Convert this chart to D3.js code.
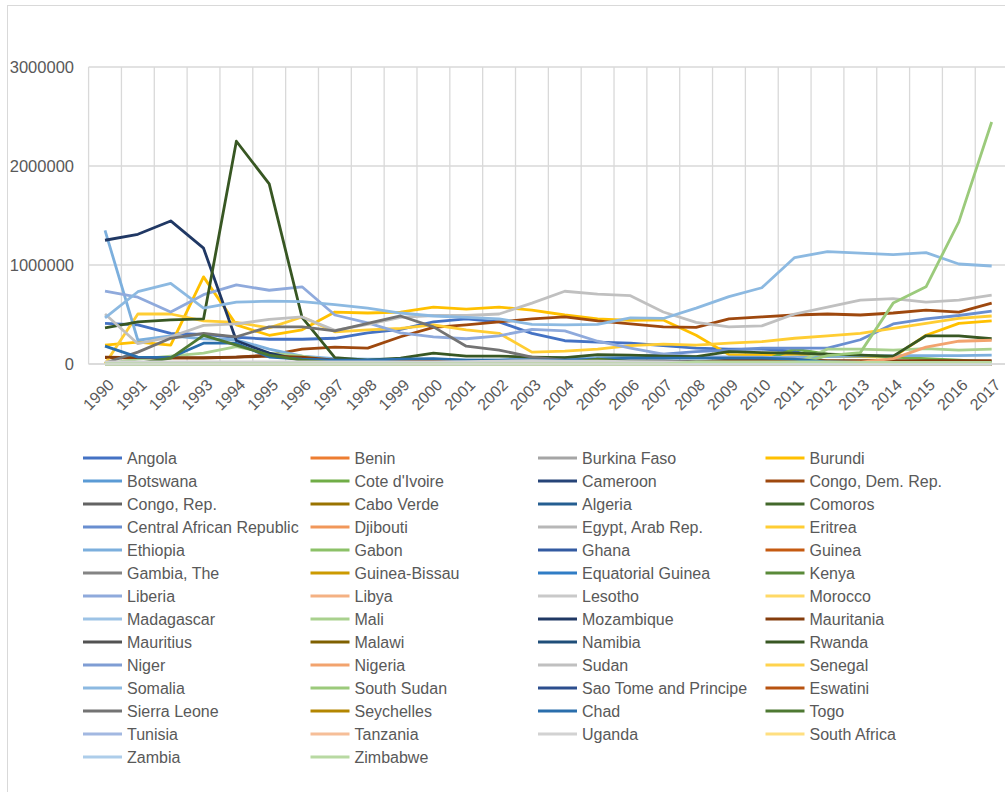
<!DOCTYPE html>
<html lang="en">
<head>
  <meta charset="utf-8">
  <title>Refugee population by country of origin - Africa</title>
  <script src="https://d3js.org/d3.v7.min.js"></script>
  <style>
    body { margin: 0; background: #fff; }
    #chart text { font-family: "Liberation Sans", Arial, sans-serif; fill: #595959; }
  </style>
</head>
<body>
<div id="chart"></div>
<script>
// categories
const years = ["1990","1991","1992","1993","1994","1995","1996","1997","1998","1999","2000","2001","2002","2003",
  "2004","2005","2006","2007","2008","2009","2010","2011","2012","2013","2014","2015","2016","2017"];

const yTicks = [0, 1000000, 2000000, 3000000];

const countries = ["Angola","Benin","Burkina Faso","Burundi","Botswana","Cote d'Ivoire","Cameroon","Congo, Dem. Rep.",
  "Congo, Rep.","Cabo Verde","Algeria","Comoros","Central African Republic","Djibouti","Egypt, Arab Rep.","Eritrea",
  "Ethiopia","Gabon","Ghana","Guinea","Gambia, The","Guinea-Bissau","Equatorial Guinea","Kenya",
  "Liberia","Libya","Lesotho","Morocco","Madagascar","Mali","Mozambique","Mauritania",
  "Mauritius","Malawi","Namibia","Rwanda","Niger","Nigeria","Sudan","Senegal",
  "Somalia","South Sudan","Sao Tome and Principe","Eswatini","Sierra Leone","Seychelles","Chad","Togo",
  "Tunisia","Tanzania","Uganda","South Africa","Zambia","Zimbabwe"];

// excel office palette (accents + shades/tints)
const colors = ["#4472C4","#ED7D31","#A5A5A5","#FFC000","#5B9BD5","#70AD47",
  "#264478","#9E480E","#636363","#997300","#255E91","#43682B",
  "#698ED0","#F1975A","#B7B7B7","#FFCD33","#7CAFDD","#8CC168",
  "#335AA1","#C55A11","#848484","#CC9A00","#307DC5","#5A8A39",
  "#8FAADC","#F4B183","#C9C9C9","#FFD966","#9DC3E6","#A9D18E",
  "#203864","#843C0C","#525252","#7F6000","#1F4E79","#385723",
  "#7F9DD4","#F2A36E","#C0C0C0","#FFD34D","#8CB9E1","#9BCA7B",
  "#2C4E8E","#B85310","#737373","#B38600","#2A6EAC","#4E7932",
  "#A2B8E1","#F6BE98","#D2D2D2","#FFDF80","#ADCDEA","#B8D9A2"];

// refugees by origin, one row per country (same order as countries)
const values = [
  /* Angola */ [410000,395000,310000,300000,270000,250000,250000,260000,315000,350000,425000,455000,425000,310000,235000,220000,210000,185000,160000,150000,150000,130000,20000,10000,10000,10000,10000,10000],
  /* Benin */ [500,500,500,500,500,500,500,500,500,500,500,500,500,500,500,500,500,500,500,500,500,500,500,500,500,500,500,500],
  /* Burkina Faso */ [1000,1000,1000,1000,1000,1000,1000,1000,1000,1000,1000,1000,1000,1000,1000,1000,1000,1000,1000,1000,1000,1000,1000,1000,1000,1500,1500,1500],
  /* Burundi */ [190000,220000,190000,880000,395000,290000,345000,525000,515000,525000,575000,555000,575000,545000,495000,455000,440000,445000,290000,95000,90000,100000,75000,75000,70000,290000,410000,435000],
  /* Botswana */ [0,0,0,0,0,0,0,0,0,0,0,0,0,0,0,0,0,0,0,0,0,0,0,0,0,0,0,0],
  /* Cote d'Ivoire */ [0,0,0,0,0,0,0,0,0,0,0,5000,20000,30000,20000,20000,20000,20000,20000,20000,30000,150000,100000,90000,70000,55000,40000,20000],
  /* Cameroon */ [5000,5000,5000,5000,5000,5000,5000,5000,5000,5000,5000,5000,5000,5000,5000,5000,10000,10000,15000,15000,15000,15000,15000,15000,10000,10000,10000,10000],
  /* Congo, Dem. Rep. */ [65000,60000,60000,60000,70000,90000,150000,170000,160000,275000,370000,395000,425000,455000,475000,435000,405000,375000,370000,455000,475000,495000,505000,495000,515000,545000,525000,615000],
  /* Congo, Rep. */ [0,0,0,0,0,0,0,30000,20000,40000,20000,15000,15000,15000,15000,15000,15000,15000,15000,15000,15000,15000,12000,12000,12000,12000,12000,12000],
  /* Cabo Verde */ [0,0,0,0,0,0,0,0,0,0,0,0,0,0,0,0,0,0,0,0,0,0,0,0,0,0,0,0],
  /* Algeria */ [5000,5000,5000,5000,5000,5000,5000,5000,5000,5000,10000,10000,10000,10000,10000,10000,8000,8000,8000,8000,8000,6000,5000,5000,5000,5000,5000,5000],
  /* Comoros */ [0,0,0,0,0,0,0,0,0,0,0,0,0,0,0,0,0,0,0,0,0,0,0,0,0,0,0,0],
  /* Central African Republic */ [5000,5000,5000,5000,5000,5000,5000,5000,5000,10000,15000,25000,35000,40000,40000,45000,75000,100000,125000,140000,160000,160000,160000,245000,405000,455000,490000,535000],
  /* Djibouti */ [1000,1000,1000,1000,1000,1000,1000,1000,1000,1000,1000,1000,1000,1000,1000,1000,1000,1000,1000,1000,1000,1000,1000,1000,1000,1000,1000,1000],
  /* Egypt, Arab Rep. */ [2000,2000,2000,2000,2000,2000,2000,2000,2000,2000,2000,2000,2000,2000,2000,2000,5000,6000,6000,6000,7000,8000,10000,15000,15000,18000,20000,20000],
  /* Eritrea */ [0,505000,505000,435000,420000,365000,475000,325000,345000,360000,395000,345000,310000,120000,130000,150000,185000,200000,190000,210000,225000,260000,285000,310000,360000,410000,460000,485000],
  /* Ethiopia */ [1350000,240000,285000,255000,245000,150000,80000,55000,50000,50000,50000,40000,40000,60000,65000,65000,70000,65000,65000,70000,65000,70000,75000,80000,85000,85000,85000,90000],
  /* Gabon */ [0,0,0,0,0,0,0,0,0,0,0,0,0,0,0,0,0,0,0,0,0,0,0,0,0,0,0,0],
  /* Ghana */ [10000,15000,15000,15000,15000,15000,15000,15000,12000,12000,12000,12000,12000,15000,15000,15000,15000,15000,15000,15000,15000,20000,20000,20000,20000,15000,15000,12000],
  /* Guinea */ [0,0,0,0,0,0,0,0,0,0,5000,5000,5000,5000,5000,5000,5000,8000,8000,10000,12000,15000,15000,15000,15000,15000,15000,15000],
  /* Gambia, The */ [0,0,0,0,0,0,0,0,0,0,0,0,0,0,0,0,0,0,0,0,1000,2000,2000,3000,3000,5000,7000,8000],
  /* Guinea-Bissau */ [0,0,0,0,0,0,0,0,20000,10000,5000,2000,2000,1000,1000,1000,1000,1000,1000,1000,1000,1000,1000,1000,1000,1000,1000,1000],
  /* Equatorial Guinea */ [0,0,0,0,0,0,0,0,0,0,0,0,0,0,0,0,0,0,0,0,0,0,0,0,0,0,0,0],
  /* Kenya */ [5000,5000,5000,5000,5000,5000,5000,5000,5000,5000,5000,5000,5000,5000,5000,5000,5000,5000,8000,9000,9000,9000,9000,8000,7000,7000,7000,7000],
  /* Liberia */ [735000,675000,525000,700000,800000,745000,780000,495000,415000,315000,275000,255000,285000,350000,335000,230000,160000,100000,75000,70000,70000,60000,30000,20000,10000,10000,10000,5000],
  /* Libya */ [0,0,0,0,0,0,0,0,0,0,0,0,0,0,0,0,0,0,0,0,0,2000,3000,3000,4000,6000,8000,9000],
  /* Lesotho */ [0,0,0,0,0,0,0,0,0,0,0,0,0,0,0,0,0,0,0,0,0,0,0,0,0,0,0,0],
  /* Morocco */ [2000,2000,2000,2000,2000,2000,2000,2000,2000,2000,2000,2000,2000,2000,2000,2000,2000,2000,2000,2000,2000,2000,2000,2000,2000,2000,2000,2000],
  /* Madagascar */ [0,0,0,0,0,0,0,0,0,0,0,0,0,0,0,0,0,0,0,0,0,0,0,0,0,0,0,0],
  /* Mali */ [0,50000,80000,110000,175000,110000,80000,30000,5000,5000,1000,1000,1000,1000,1000,1000,1000,2000,2000,3000,3000,5000,150000,150000,140000,155000,140000,150000],
  /* Mozambique */ [1250000,1310000,1445000,1170000,235000,110000,40000,20000,5000,3000,1000,500,500,500,500,500,500,500,500,500,500,500,500,500,500,500,500,500],
  /* Mauritania */ [70000,65000,65000,65000,70000,80000,70000,40000,30000,30000,30000,30000,30000,30000,30000,30000,30000,30000,20000,40000,40000,40000,35000,35000,35000,35000,35000,35000],
  /* Mauritius */ [0,0,0,0,0,0,0,0,0,0,0,0,0,0,0,0,0,0,0,0,0,0,0,0,0,0,0,0],
  /* Malawi */ [0,0,0,0,0,0,0,0,0,0,0,0,0,0,0,0,0,0,0,0,0,0,0,0,0,0,0,0],
  /* Namibia */ [0,0,0,0,0,0,0,0,0,2000,2000,2000,2000,1000,1000,1000,1000,1000,1000,1000,1000,1000,1000,1000,1000,1000,1000,1000],
  /* Rwanda */ [365000,425000,445000,455000,2250000,1820000,470000,65000,40000,60000,110000,80000,80000,70000,65000,95000,90000,80000,75000,125000,115000,110000,100000,90000,80000,285000,285000,255000],
  /* Niger */ [0,0,0,0,0,0,0,0,0,0,0,0,0,0,0,0,0,0,0,0,0,0,0,0,0,0,0,0],
  /* Nigeria */ [5000,5000,5000,5000,5000,5000,5000,5000,5000,5000,5000,5000,10000,15000,15000,15000,15000,15000,15000,15000,15000,15000,15000,20000,55000,170000,230000,240000],
  /* Sudan */ [505000,205000,275000,390000,405000,450000,475000,340000,400000,470000,490000,490000,505000,615000,735000,705000,690000,525000,420000,375000,385000,505000,575000,645000,660000,625000,645000,695000],
  /* Senegal */ [15000,15000,15000,15000,15000,15000,15000,15000,15000,15000,15000,15000,15000,15000,15000,15000,15000,15000,15000,15000,15000,15000,15000,15000,15000,15000,15000,15000],
  /* Somalia */ [465000,730000,815000,565000,625000,635000,630000,600000,565000,515000,485000,470000,455000,400000,395000,400000,465000,460000,565000,680000,770000,1075000,1135000,1120000,1105000,1125000,1010000,990000],
  /* South Sudan */ [0,0,0,0,0,0,0,0,0,0,0,0,0,0,0,0,0,0,0,0,0,0,85000,115000,615000,780000,1435000,2445000],
  /* Sao Tome and Principe */ [0,0,0,0,0,0,0,0,0,0,0,0,0,0,0,0,0,0,0,0,0,0,0,0,0,0,0,0],
  /* Eswatini */ [0,0,0,0,0,0,0,0,0,0,0,0,0,0,0,0,0,0,0,0,0,0,0,0,0,0,0,0],
  /* Sierra Leone */ [10000,120000,260000,310000,275000,375000,375000,335000,410000,485000,375000,180000,140000,70000,40000,40000,30000,30000,25000,15000,10000,10000,5000,5000,5000,5000,5000,5000],
  /* Seychelles */ [0,0,0,0,0,0,0,0,0,0,0,0,0,0,0,0,0,0,0,0,0,0,0,0,0,0,0,0],
  /* Chad */ [180000,70000,65000,210000,210000,70000,50000,40000,40000,50000,55000,40000,40000,40000,40000,50000,60000,60000,60000,60000,60000,50000,20000,15000,15000,15000,15000,15000],
  /* Togo */ [5000,5000,60000,290000,190000,90000,40000,10000,5000,5000,5000,5000,5000,10000,10000,50000,25000,15000,15000,15000,15000,10000,10000,10000,10000,10000,10000,10000],
  /* Tunisia */ [0,0,0,0,0,0,0,0,0,0,0,0,0,0,0,0,0,0,0,0,0,0,0,0,0,0,0,0],
  /* Tanzania */ [0,0,0,0,0,0,0,0,0,0,0,0,0,0,0,0,0,0,0,0,0,0,0,0,0,0,0,0],
  /* Uganda */ [20000,20000,20000,20000,20000,20000,20000,20000,20000,20000,20000,25000,30000,35000,30000,30000,25000,20000,15000,10000,10000,8000,7000,7000,6000,6000,6000,6000],
  /* South Africa */ [0,0,0,0,0,0,0,0,0,0,0,0,0,0,0,0,0,0,0,0,0,0,0,0,0,0,0,0],
  /* Zambia */ [0,0,0,0,0,0,0,0,0,0,0,0,0,0,0,0,0,0,0,0,0,0,0,0,0,0,0,0],
  /* Zimbabwe */ [0,0,0,0,0,0,0,0,0,0,0,0,0,0,0,0,0,0,20000,20000,20000,20000,20000,15000,15000,15000,15000,15000]
];

// setting up chart
var width = 1005, height = 792;
var plot = {left: 88.6, right: 1008.1, top: 67, bottom: 364};

var svg = d3.select("#chart").append("svg")
  .attr("width", width)
  .attr("height", height);

// chart area border
svg.append("rect")
  .attr("x", 7.5).attr("y", 5.5)
  .attr("width", 1100).attr("height", 900)
  .attr("fill", "none")
  .attr("stroke", "#d9d9d9");

var x = d3.scaleBand()
  .domain(years)
  .range([plot.left, plot.right])
  .padding(0);

var y = d3.scaleLinear()
  .domain([0, 3000000])
  .range([plot.bottom, plot.top]);

// horizontal gridlines
svg.append("g")
  .selectAll("line")
  .data(yTicks)
  .join("line")
  .attr("x1", plot.left).attr("x2", plot.right)
  .attr("y1", d => y(d)).attr("y2", d => y(d))
  .attr("stroke", "#d9d9d9")
  .attr("stroke-width", 1.3);

// vertical gridlines (between categories)
svg.append("g")
  .selectAll("line")
  .data(years)
  .join("line")
  .attr("x1", d => x(d)).attr("x2", d => x(d))
  .attr("y1", plot.top).attr("y2", plot.bottom)
  .attr("stroke", "#d9d9d9")
  .attr("stroke-width", 1.3);

// y-axis labels
svg.append("g")
  .selectAll("text")
  .data(yTicks)
  .join("text")
  .attr("x", 74)
  .attr("y", d => y(d))
  .attr("dy", "0.35em")
  .attr("text-anchor", "end")
  .style("font-size", "16.5px")
  .text(d => d);

// x-axis labels, rotated
svg.append("g")
  .selectAll("text")
  .data(years)
  .join("text")
  .attr("transform", d => "translate(" + (x(d) + x.bandwidth() / 2 + 6) + "," + 382 + ") rotate(-45)")
  .attr("text-anchor", "end")
  .attr("dy", "0.35em")
  .style("font-size", "16px")
  .text(d => d);

// lines
var line = d3.line()
  .x((d, i) => x(years[i]) + x.bandwidth() / 2)
  .y(d => y(d));

svg.append("g")
  .selectAll("path")
  .data(values)
  .join("path")
  .attr("d", d => line(d))
  .attr("fill", "none")
  .attr("stroke", (d, i) => colors[i])
  .attr("stroke-width", 2.8)
  .attr("stroke-linejoin", "round");

// x axis line
svg.append("line")
  .attr("x1", plot.left).attr("x2", plot.right)
  .attr("y1", plot.bottom).attr("y2", plot.bottom)
  .attr("stroke", "#d9d9d9")
  .attr("stroke-width", 1.3);

// legend, 4 columns
var legend = svg.append("g")
  .selectAll("g")
  .data(countries)
  .join("g")
  .attr("transform", (d, i) => "translate(" + (83 + (i % 4) * 227.5) + "," + (458 + Math.floor(i / 4) * 23) + ")");

legend.append("line")
  .attr("x1", 0).attr("x2", 39)
  .attr("stroke", (d, i) => colors[i])
  .attr("stroke-width", 2.8);

legend.append("text")
  .attr("x", 44)
  .attr("dy", "0.35em")
  .style("font-size", "16px")
  .text(d => d);
</script>
</body>
</html>
